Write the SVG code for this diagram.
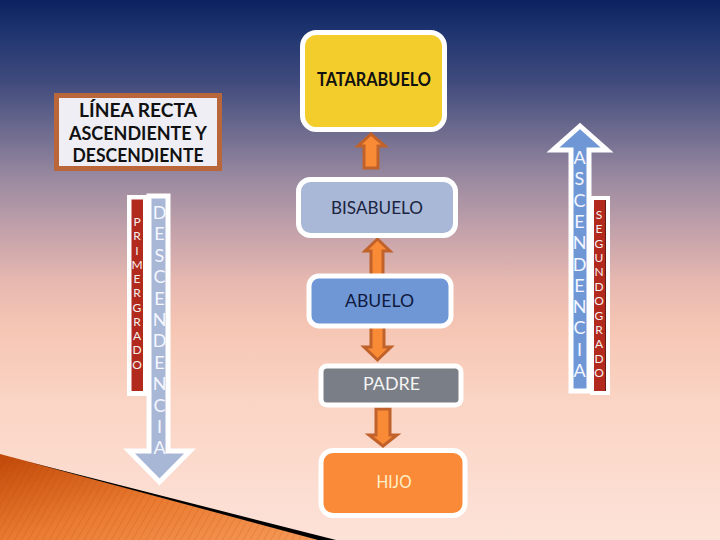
<svg xmlns="http://www.w3.org/2000/svg" width="720" height="540" viewBox="0 0 720 540">
<defs>
<linearGradient id="bg" x1="0" y1="0" x2="0" y2="1">
<stop offset="0" stop-color="#0b2260"/>
<stop offset="0.06" stop-color="#1f3570"/>
<stop offset="0.15" stop-color="#3f4a7c"/>
<stop offset="0.24" stop-color="#6c6a8e"/>
<stop offset="0.33" stop-color="#9a8aa0"/>
<stop offset="0.43" stop-color="#c4a2aa"/>
<stop offset="0.52" stop-color="#e6b8b0"/>
<stop offset="0.61" stop-color="#f6c6b4"/>
<stop offset="0.74" stop-color="#fad4c4"/>
<stop offset="1" stop-color="#fde2d8"/>
</linearGradient>
<linearGradient id="org" x1="0" y1="0" x2="1" y2="1">
<stop offset="0" stop-color="#c04808"/>
<stop offset="0.5" stop-color="#ea7a30"/>
<stop offset="1" stop-color="#f59a58"/>
</linearGradient>
<pattern id="stripes" width="6" height="6" patternUnits="userSpaceOnUse" patternTransform="rotate(30)">
<line x1="0" y1="0" x2="0" y2="6" stroke="#b04000" stroke-width="1" stroke-opacity="0.35"/>
</pattern>
<style>
.box{stroke:#ffffff;stroke-width:5}
.lbl{font-family:Lato,"Liberation Sans",sans-serif;font-size:18px;text-anchor:middle}
.ttl{font-family:Lato,"Liberation Sans",sans-serif;font-size:19px;font-weight:bold;text-anchor:middle;fill:#111111}
.big{font-family:Lato,"Liberation Sans",sans-serif;font-size:18px;text-anchor:middle;fill:#f4f6ff}
.sm{font-family:Lato,"Liberation Sans",sans-serif;font-size:12px;text-anchor:middle;fill:#f4f0ee}
.conn{fill:#f98a36;stroke:#c0622a;stroke-width:3;stroke-linejoin:miter}
</style>
</defs>
<rect width="720" height="540" fill="url(#bg)"/>
<polygon points="0,454 30,462 320,540 0,540" fill="url(#org)"/>
<polygon points="0,454 30,462 320,540 0,540" fill="url(#stripes)"/>
<polygon points="25,461 336,540 318,540" fill="#000000"/>

<g id="node-title">
<rect x="56.5" y="95.5" width="163" height="73" fill="#eeeef4" stroke="#b8663a" stroke-width="5"/>
<text class="ttl" x="138" y="117" textLength="118" lengthAdjust="spacingAndGlyphs">LÍNEA RECTA</text>
<text class="ttl" x="138" y="139.5" textLength="138" lengthAdjust="spacingAndGlyphs">ASCENDIENTE Y</text>
<text class="ttl" x="138" y="162" textLength="131" lengthAdjust="spacingAndGlyphs">DESCENDIENTE</text>
</g>

<g id="node-descendencia">
<rect x="127" y="195" width="21" height="201" fill="#ffffff"/>
<path d="M149,196 H168 V451 H190 L159.5,482 L129,451 H149 Z" fill="#a9b7d6" stroke="#ffffff" stroke-width="5"/>
<rect x="131.5" y="199.5" width="11.5" height="191.5" fill="#b22a1e"/>
<text class="big" x="159.5"><tspan x="159.5" y="219">D</tspan><tspan x="159.5" y="240.4">E</tspan><tspan x="159.5" y="261.8">S</tspan><tspan x="159.5" y="283.2">C</tspan><tspan x="159.5" y="304.6">E</tspan><tspan x="159.5" y="326">N</tspan><tspan x="159.5" y="347.4">D</tspan><tspan x="159.5" y="368.8">E</tspan><tspan x="159.5" y="390.2">N</tspan><tspan x="159.5" y="411.6">C</tspan><tspan x="159.5" y="433">I</tspan><tspan x="159.5" y="454.4">A</tspan></text>
<text class="sm" x="137"><tspan x="137" y="226">P</tspan><tspan x="137" y="240.3">R</tspan><tspan x="137" y="254.5">I</tspan><tspan x="137" y="268.8">M</tspan><tspan x="137" y="283">E</tspan><tspan x="137" y="297.3">R</tspan><tspan x="137" y="311.5">G</tspan><tspan x="137" y="325.8">R</tspan><tspan x="137" y="340">A</tspan><tspan x="137" y="354.3">D</tspan><tspan x="137" y="368.5">O</tspan></text>
</g>

<g id="node-ascendencia">
<rect x="590" y="196" width="20" height="199" fill="#ffffff"/>
<path d="M571,391 V150 H553 L580,126 L607,150 H589 V391 Z" fill="#6f97d6" stroke="#ffffff" stroke-width="5"/>
<rect x="594" y="200" width="12" height="191" fill="#b22a1e"/>
<line x1="605.5" y1="200" x2="605.5" y2="391" stroke="#6a1a14" stroke-width="1"/>
<text class="big" x="579.5"><tspan x="579.5" y="164">A</tspan><tspan x="579.5" y="185.3">S</tspan><tspan x="579.5" y="206.6">C</tspan><tspan x="579.5" y="227.9">E</tspan><tspan x="579.5" y="249.2">N</tspan><tspan x="579.5" y="270.5">D</tspan><tspan x="579.5" y="291.8">E</tspan><tspan x="579.5" y="313.1">N</tspan><tspan x="579.5" y="334.4">C</tspan><tspan x="579.5" y="355.7">I</tspan><tspan x="579.5" y="377">A</tspan></text>
<text class="sm" x="599"><tspan x="599" y="219">S</tspan><tspan x="599" y="233.4">E</tspan><tspan x="599" y="247.7">G</tspan><tspan x="599" y="262.1">U</tspan><tspan x="599" y="276.4">N</tspan><tspan x="599" y="290.8">D</tspan><tspan x="599" y="305.2">O</tspan><tspan x="599" y="319.5">G</tspan><tspan x="599" y="333.9">R</tspan><tspan x="599" y="348.2">A</tspan><tspan x="599" y="362.6">D</tspan><tspan x="599" y="377">O</tspan></text>
</g>

<g id="connectors">
<path class="conn" d="M364,168 V146 H358 L371,134 L385,146 H378 V168 Z"/>
<path class="conn" d="M371,276 V251 H365 L377.5,239 L390,251 H383 V276 Z"/>
<path class="conn" d="M371,321 V347 H364 L377.5,360 L391,347 H384 V321 Z"/>
<path class="conn" d="M376,409 V435 H369 L383,446 L397,435 H390 V409 Z"/>
</g>

<g id="node-tatarabuelo">
<rect class="box" x="302.5" y="32.5" width="142" height="97" rx="14" fill="#f3cd2c"/>
<text class="ttl" x="374" y="86" textLength="114" lengthAdjust="spacingAndGlyphs">TATARABUELO</text>
</g>
<g id="node-bisabuelo">
<rect class="box" x="298.5" y="179.5" width="157" height="56" rx="12" fill="#aab8d8"/>
<text class="lbl" x="377" y="214" fill="#1a2440" textLength="92" lengthAdjust="spacingAndGlyphs">BISABUELO</text>
</g>
<g id="node-abuelo">
<rect class="box" x="309" y="276" width="142" height="50" rx="10" fill="#6f97d6"/>
<text class="lbl" x="379.5" y="306.5" fill="#101a40" textLength="69" lengthAdjust="spacingAndGlyphs">ABUELO</text>
</g>
<g id="node-padre">
<rect class="box" x="321" y="366" width="140" height="39" rx="6" fill="#7a7e86"/>
<text class="lbl" x="391.5" y="389.5" fill="#f4f4f4" textLength="57" lengthAdjust="spacingAndGlyphs">PADRE</text>
</g>
<g id="node-hijo">
<rect class="box" x="321" y="450.5" width="144" height="65" rx="12" fill="#fb8a38"/>
<text class="lbl" x="394" y="487.5" fill="#fff0c8" textLength="35" lengthAdjust="spacingAndGlyphs">HIJO</text>
</g>
</svg>
